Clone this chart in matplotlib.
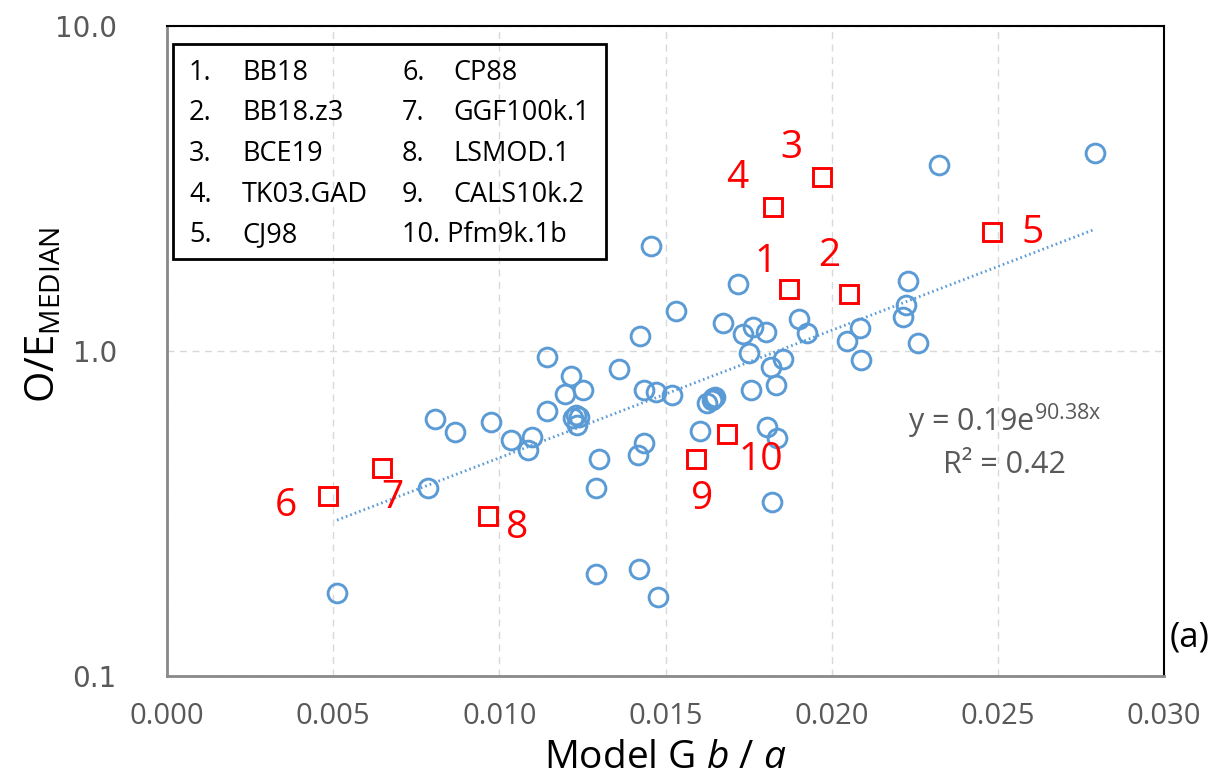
import numpy as np
import matplotlib
matplotlib.use("Agg")
import matplotlib.pyplot as plt
from matplotlib import font_manager
from matplotlib.ticker import FixedLocator, FixedFormatter

# site models (blue circles)
site_x = [0.00512, 0.00786, 0.00807, 0.00867, 0.00975, 0.01034, 0.01098, 0.01086,
          0.01144, 0.01145, 0.01199, 0.01216, 0.01252, 0.01222, 0.01231, 0.01240,
          0.01234, 0.01301, 0.01291, 0.01291, 0.01360, 0.01423, 0.01434, 0.01435,
          0.01416, 0.01419, 0.01456, 0.01471, 0.01478, 0.01519, 0.01532, 0.01604,
          0.01624, 0.01639, 0.01644, 0.01649, 0.01674, 0.01719, 0.01734, 0.01762,
          0.01752, 0.01757, 0.01802, 0.01805, 0.01816, 0.01831, 0.01834, 0.01819,
          0.01854, 0.01902, 0.01925, 0.02047, 0.02085, 0.02089, 0.02213, 0.02223,
          0.02230, 0.02259, 0.02323, 0.02792]
site_y = [0.180, 0.379, 0.618, 0.563, 0.605, 0.532, 0.545, 0.496,
          0.960, 0.656, 0.735, 0.838, 0.759, 0.622, 0.636, 0.626,
          0.592, 0.464, 0.379, 0.206, 0.880, 1.112, 0.759, 0.521,
          0.479, 0.213, 2.104, 0.750, 0.175, 0.732, 1.328, 0.569,
          0.690, 0.707, 0.715, 0.723, 1.217, 1.611, 1.128, 1.188,
          0.984, 0.759, 1.147, 0.585, 0.891, 0.786, 0.540, 0.343,
          0.945, 1.252, 1.138, 1.073, 1.175, 0.938, 1.275, 1.385,
          1.642, 1.060, 3.744, 4.067]

# global field models (red squares)
model_names = ["BB18", "BB18.z3", "BCE19", "TK03.GAD", "CJ98",
               "CP88", "GGF100k.1", "LSMOD.1", "CALS10k.2", "Pfm9k.1b"]
model_x = [0.01872, 0.02052, 0.01972, 0.01822, 0.02482,
           0.00484, 0.00646, 0.00966, 0.01592, 0.01686]
model_y = [1.552, 1.494, 3.424, 2.768, 2.324,
           0.358, 0.437, 0.311, 0.465, 0.554]
# where each number sits relative to its square (pixels)
label_offsets = [(-24, 27), (-20, 38), (-31, 29), (-35, 29), (41, -1),
                 (-42, -10), (11, -30), (29, -12), (6, -40), (33, -26)]

# exponential trend fitted to the site points
fit_a = 0.19
fit_b = 90.38
fit_r2 = 0.42

x_ticks = [0.000, 0.005, 0.010, 0.015, 0.020, 0.025, 0.030]
y_ticks = [0.1, 1.0, 10.0]

available = {f.name for f in font_manager.fontManager.ttflist}
narrow = "Liberation Sans Narrow" if "Liberation Sans Narrow" in available else "Open Sans"
main_font = "Open Sans"

plt.rcParams["font.family"] = [main_font, "DejaVu Sans"]
plt.rcParams["mathtext.fontset"] = "custom"
plt.rcParams["mathtext.rm"] = main_font
plt.rcParams["mathtext.it"] = main_font + ":italic"

blue = "#5B9BD5"
grey_text = "#595959"

fig = plt.figure(figsize=(12.22, 7.82), dpi=100)
ax = fig.add_axes([0.1365, 0.1355, 0.8162, 0.8313])
ax.set_yscale("log")
ax.set_xlim(0, 0.030)
ax.set_ylim(0.1, 10)

ax.plot(site_x, site_y, "o", ls="none", ms=13.5, mfc="none", mec=blue, mew=2.1, zorder=3)
ax.plot(model_x, model_y, "s", ls="none", ms=13.5, mfc="none", mec="red", mew=2.1, zorder=4)

for i, (mx, my) in enumerate(zip(model_x, model_y)):
    ax.annotate(str(i + 1), (mx, my), xytext=label_offsets[i], textcoords="offset pixels",
                ha="center", va="center", color="red", fontsize=28, zorder=5)

xs = np.linspace(min(site_x), max(site_x), 200)
ax.plot(xs, fit_a * np.exp(fit_b * xs), ls=(0, (0.6, 1.1)), color=blue, lw=2.0, zorder=2)

ax.text(0.02520, 0.61, f"y = {fit_a:.2f}e$^{{\\mathrm{{{fit_b:.2f}x}}}}$", ha="center",
        va="center", color=grey_text, fontsize=22)
ax.text(0.02520, 0.445, f"R² = {fit_r2:.2f}", ha="center", va="center",
        color=grey_text, fontsize=22)

# ticks and grid
ax.xaxis.set_major_locator(FixedLocator(x_ticks))
ax.xaxis.set_major_formatter(FixedFormatter([f"{v:.3f}" for v in x_ticks]))
ax.yaxis.set_major_locator(FixedLocator(y_ticks))
ax.yaxis.set_major_formatter(FixedFormatter([f"{v:.1f}" for v in y_ticks]))
ax.yaxis.set_minor_locator(FixedLocator([]))
ax.tick_params(axis="both", length=0)
ax.tick_params(axis="x", pad=19, labelcolor=grey_text)
ax.tick_params(axis="y", pad=36, labelcolor=grey_text)
for lab in ax.get_xticklabels():
    lab.set_fontfamily(narrow)
    lab.set_fontsize(21)
for lab in ax.get_yticklabels():
    lab.set_fontfamily("DejaVu Sans")
    lab.set_fontsize(20)

ax.grid(True, which="major", color="#D9D9D9", ls=(0, (5, 4)), lw=1.0, zorder=0)

for side in ["top", "right"]:
    ax.spines[side].set_color("black")
    ax.spines[side].set_linewidth(1.5)
for side in ["left", "bottom"]:
    ax.spines[side].set_color("#898989")
    ax.spines[side].set_linewidth(2.0)

ax.set_xlabel("Model G $\\it{b}$ / $\\it{a}$", fontsize=28, fontfamily=narrow)
ax.xaxis.set_label_coords(0.5, -0.097)
ax.xaxis.label.set_va("top")
ax.set_ylabel("O/E$_{\\mathrm{MEDIAN}}$", fontsize=29)
ax.yaxis.set_label_coords(-0.103, 0.555)

# numbered list of models in a box
ax.add_patch(plt.Rectangle((173 / 1222, 1 - 259 / 782), 433 / 1222, 215 / 782,
                           transform=fig.transFigure, fill=False, ec="black", lw=2.0,
                           zorder=6, clip_on=False))
for i, name in enumerate(model_names):
    col, row = divmod(i, 5)
    y = 1 - (73 + row * 40.5) / 782
    x_num = (189 + col * 213) / 1222
    x_name = (242 + col * 211) / 1222
    if i == 9:
        fig.text(x_num, y, f"{i + 1}. {name}", va="center", ha="left", fontsize=19.5)
    else:
        fig.text(x_num, y, f"{i + 1}.", va="center", ha="left", fontsize=19.5)
        fig.text(x_name, y, name, va="center", ha="left", fontsize=19.5)

fig.text(1190 / 1222, 1 - 637 / 782, "(a)", ha="center", va="center", fontsize=25)

fig.savefig("out.png", dpi=100)
